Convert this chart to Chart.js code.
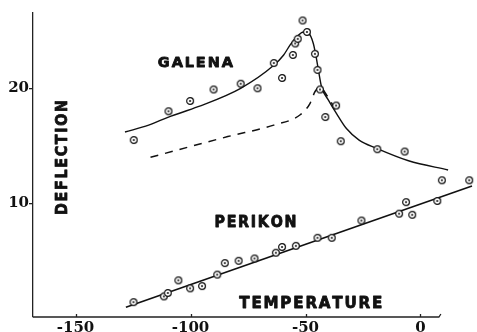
<!DOCTYPE html>
<html>
<head>
<meta charset="utf-8">
<script src="https://cdn.jsdelivr.net/npm/chart.js@4"></script>
<style>
html,body{margin:0;padding:0;background:#fff;}
#wrap{width:477px;height:332px;position:relative;}
</style>
</head>
<body>
<div id="wrap"><canvas id="c" width="477" height="332"></canvas></div>
<script>
// ---- data ----
const xTicks = [-150, -100, -50, 0];
const yTicks = [10, 20];

const galenaT = [-124.7,-109.6,-100.2,-90.0,-78.2,-70.9,-63.8,-60.2,-55.5,-54.5,-53.4,-51.3,-49.4,-45.9,-44.8,-43.7,-41.4,-36.7,-34.7,-18.8,-6.9,9.3];
const galenaD = [15.5,18.0,18.9,19.9,20.4,20.0,22.2,20.9,22.9,23.9,24.3,25.9,24.9,23.0,21.6,19.9,17.5,18.5,15.4,14.7,14.5,12.0];

const perikonT = [-124.8,-111.6,-109.9,-105.3,-100.2,-95.0,-88.4,-85.1,-79.1,-72.2,-62.9,-60.2,-54.2,-44.8,-38.6,-25.7,-9.3,-6.3,-3.6,7.3,21.2];
const perikonD = [1.4,1.9,2.2,3.3,2.6,2.8,3.8,4.8,5.0,5.2,5.7,6.2,6.3,7.0,7.0,8.5,9.1,10.1,9.0,10.2,12.0];

const galenaCurveT = [-128.5,-118.2,-109.6,-96.7,-78.2,-63.8,-59.5,-56.6,-53.7,-50.9,-48.7,-46.6,-45.4,-44.4,-43.0,-40.1,-36.5,-32.2,-26.7,-19.3,-5.2,12.0];
const galenaCurveD = [16.2,16.8,17.5,18.4,20.0,22.0,22.9,23.8,24.5,24.9,24.8,23.9,22.75,21.6,20.1,19.0,17.8,16.5,15.5,14.8,13.7,12.9];

const galenaDashT = [-117.4,-83.8,-63.8,-52.3,-48.0,-45.9,-43.7,-40.8,-36.5];
const galenaDashD = [14.0,15.8,16.8,17.7,18.7,19.7,20.1,19.4,18.0];

const perikonLineT = [-128.1, 22.4];
const perikonLineD = [0.95, 11.5];

const labels = [
  {text:'GALENA', x:-114.2, y:21.88, size:14, width:75, rot:false},
  {text:'PERIKON', x:-89.6, y:7.97, size:15, width:82, rot:false},
  {text:'TEMPERATURE', x:-78.8, y:0.92, size:15, width:143, rot:false},
  {text:'DEFLECTION', x:-153.9, y:8.98, size:15, width:115, rot:true}
];

const xMin = -168.5, xMax = 22.4, xAxisEnd = 8;
const yMin = 0.11, yMax = 26.55;

// ---- helpers ----
function pts(xs, ys){ return xs.map((v,i)=>({x:v, y:ys[i]})); }

function makeMarker(){
  const c = document.createElement('canvas');
  c.width = 10; c.height = 10;
  const g = c.getContext('2d');
  g.fillStyle = '#fff';
  g.strokeStyle = '#111';
  g.lineWidth = 1.2;
  g.beginPath(); g.arc(5,5,3.4,0,Math.PI*2); g.fill(); g.stroke();
  g.fillStyle = '#111';
  g.beginPath(); g.arc(5,5,1.0,0,Math.PI*2); g.fill();
  return c;
}
const marker = makeMarker();

function spacedText(ctx, text, x, y, width){
  const chars = text.split('');
  const gap = 1.8;
  const widths = chars.map(ch=>ctx.measureText(ch).width);
  const total = widths.reduce((a,b)=>a+b,0) + gap*(chars.length-1);
  const sc = width/total;
  ctx.save();
  ctx.translate(x, y);
  ctx.scale(sc, 1);
  let cx = 0;
  chars.forEach((ch,i)=>{ ctx.strokeText(ch, cx, 0); ctx.fillText(ch, cx, 0); cx += widths[i] + gap; });
  ctx.restore();
}

const decor = {
  id:'decor',
  afterDraw(chart){
    const ctx = chart.ctx;
    const xs = chart.scales.x, ys = chart.scales.y;
    const yb = chart.chartArea.bottom;
    ctx.save();
    ctx.strokeStyle = '#222';
    ctx.lineWidth = 1.3;
    const xe = xs.getPixelForValue(xAxisEnd);
    ctx.beginPath();
    ctx.moveTo(xs.getPixelForValue(xMin), yb);
    ctx.lineTo(xe, yb);
    ctx.lineTo(xe+2, yb-3);
    ctx.stroke();
    xTicks.forEach(v=>{
      const px = Math.round(xs.getPixelForValue(v))+0.5;
      ctx.beginPath(); ctx.moveTo(px, yb); ctx.lineTo(px, yb-3); ctx.stroke();
    });
    ctx.fillStyle = '#111';
    ctx.strokeStyle = '#111';
    ctx.lineWidth = 0.8;
    ctx.lineJoin = 'round';
    labels.forEach(l=>{
      ctx.font = 'bold '+l.size+'px "DejaVu Sans"';
      ctx.textBaseline = 'alphabetic';
      ctx.textAlign = 'left';
      const px = xs.getPixelForValue(l.x), py = ys.getPixelForValue(l.y);
      if(l.rot){
        ctx.save();
        ctx.translate(px, py);
        ctx.rotate(-Math.PI/2);
        spacedText(ctx, l.text, 0, 0, l.width);
        ctx.restore();
      } else {
        spacedText(ctx, l.text, px, py, l.width);
      }
    });
    ctx.restore();
  }
};

new Chart(document.getElementById('c'), {
  type:'scatter',
  data:{
    datasets:[
      {label:'Galena curve', data:pts(galenaCurveT, galenaCurveD), showLine:true, pointRadius:0,
       borderColor:'#111', borderWidth:1.4, cubicInterpolationMode:'monotone', clip:false, order:3},
      {label:'Galena dashed', data:pts(galenaDashT, galenaDashD), showLine:true, pointRadius:0,
       borderColor:'#111', borderWidth:1.5, borderDash:[8,7], cubicInterpolationMode:'monotone', clip:false, order:3},
      {label:'Perikon line', data:pts(perikonLineT, perikonLineD), showLine:true, pointRadius:0,
       borderColor:'#111', borderWidth:1.6, clip:false, order:3},
      {label:'Galena', data:pts(galenaT, galenaD), pointStyle:marker, pointRadius:4, clip:false, order:1},
      {label:'Perikon', data:pts(perikonT, perikonD), pointStyle:marker, pointRadius:4, clip:false, order:1}
    ]
  },
  options:{
    responsive:false,
    animation:false,
    devicePixelRatio:1,
    layout:{padding:{top:13, left:0, right:0, bottom:0}},
    plugins:{legend:{display:false}, tooltip:{enabled:false}},
    scales:{
      x:{
        type:'linear', min:xMin, max:xMax,
        border:{display:false},
        grid:{display:false, drawTicks:false},
        afterBuildTicks(s){ s.ticks = xTicks.map(v=>({value:v})); },
        afterFit(s){ s.height = 15; },
        ticks:{color:'#111', padding:2, maxRotation:0, autoSkip:false,
               font:{family:'"DejaVu Serif"', size:15, weight:'bold'},
               callback:(v)=>String(v)}
      },
      y:{
        type:'linear', min:yMin, max:yMax,
        border:{display:true, color:'#222', width:1.3},
        grid:{drawOnChartArea:false, drawTicks:true, tickLength:4, color:'#222', lineWidth:1.3},
        afterBuildTicks(s){ s.ticks = yTicks.map(v=>({value:v})); },
        afterFit(s){ s.width = 33; },
        ticks:{color:'#111', padding:0, autoSkip:false,
               font:{family:'"DejaVu Serif"', size:15, weight:'bold'},
               callback:(v)=>String(v)}
      }
    }
  },
  plugins:[decor]
});
</script>
</body>
</html>
